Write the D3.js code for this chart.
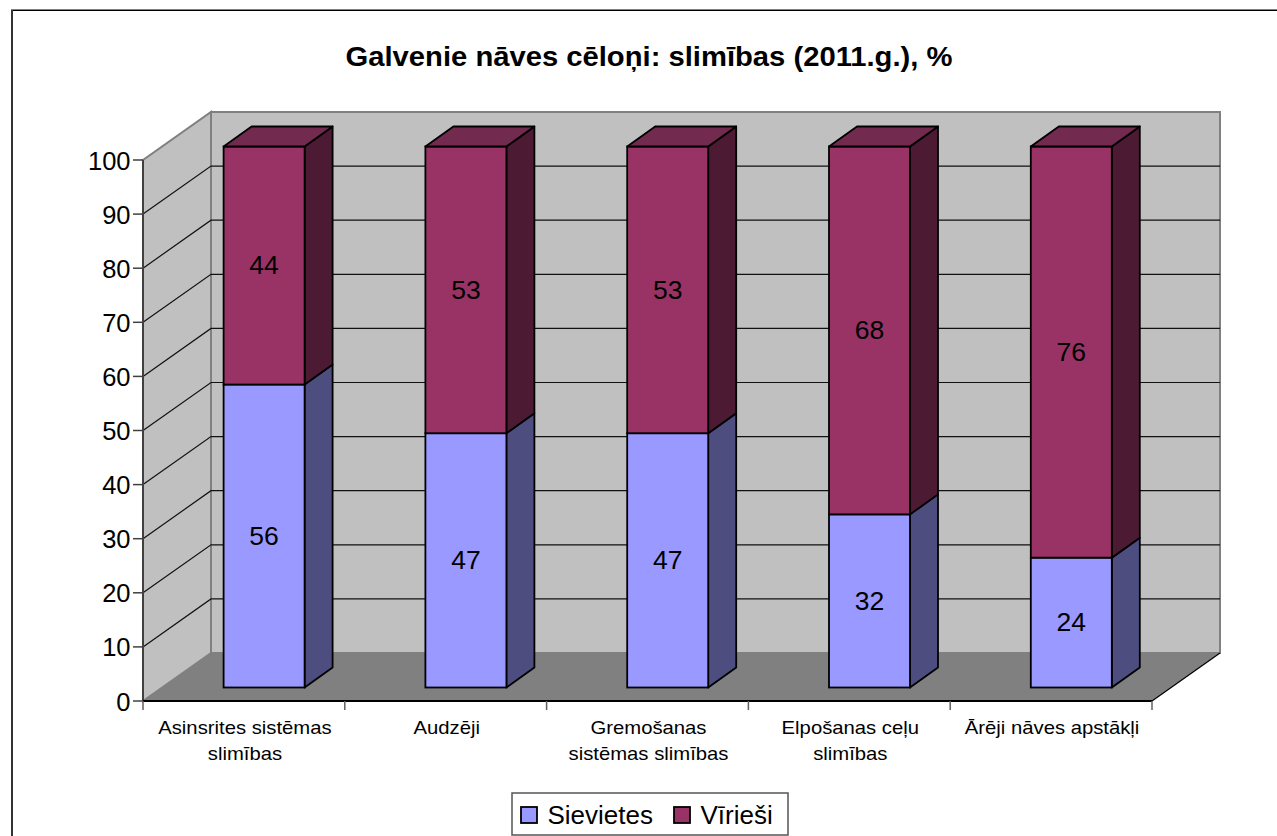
<!DOCTYPE html>
<html><head><meta charset="utf-8">
<script src="https://cdn.jsdelivr.net/npm/d3@7"></script>
<style>html,body{margin:0;padding:0;background:#fff;overflow:hidden}svg{display:block}text{font-family:"Liberation Sans",Arial,sans-serif;fill:#000}</style>
</head><body><svg id="c" width="1277" height="836"></svg>
<script>
const title = "Galvenie nāves cēloņi: slimības (2011.g.), %";
const categories = [["Asinsrites sistēmas","slimības"],["Audzēji"],["Gremošanas","sistēmas slimības"],["Elpošanas ceļu","slimības"],["Ārēji nāves apstākļi"]];
const seriesNames = ["Sievietes","Vīrieši"];
const sievietes = [56,47,47,32,24];
const virieši = [44,53,53,68,76];
const yTicks = [0,10,20,30,40,50,60,70,80,90,100];
const frontColors = ["#9999ff","#993366"];
const sideColors = ["#4d4d80","#4d1a33"];
const topColor = "#732a4f";

const svg = d3.select("#c");
// stretched text helper
function label(px,py,str,size,stretch,anchor,bold){
  return svg.append("text").attr("transform",`translate(${px},${py}) scale(${stretch},1)`)
    .attr("text-anchor",anchor).attr("font-size",size).attr("font-weight",bold?"bold":"normal").text(str);
}
// chart frame: top and left edges show, right and bottom run off the page
svg.append("line").attr("x1",11).attr("x2",1277).attr("y1",9.5).attr("y2",9.5).attr("stroke","#808080").attr("stroke-width",1);
svg.append("line").attr("x1",11).attr("x2",1277).attr("y1",10.5).attr("y2",10.5).attr("stroke","#000").attr("stroke-width",1);
svg.append("line").attr("x1",12).attr("x2",12).attr("y1",10).attr("y2",836).attr("stroke","#333").attr("stroke-width",2);
label(649,65.5,title,28.5,1.025,"middle",true);

const y = d3.scaleLinear().domain([0,100]).range([701,160]);
const x = d3.scaleBand().domain(d3.range(categories.length)).range([143,1152]);
const dx=68, dy=-48;
const pts = a=>a.map(p=>p.join(",")).join(" ");

// walls
svg.append("polygon").attr("points",pts([[143+dx,y(0)+dy],[1152+dx,y(0)+dy],[1152+dx,y(100)+dy],[143+dx,y(100)+dy]])).attr("fill","#c0c0c0").attr("stroke","#808080").attr("stroke-width",2);
svg.append("polygon").attr("points",pts([[143,y(0)],[143+dx,y(0)+dy],[143+dx,y(100)+dy],[143,y(100)]])).attr("fill","#c0c0c0").attr("stroke","#808080").attr("stroke-width",2);
svg.append("polygon").attr("points",pts([[143,y(0)],[1152,y(0)],[1152+dx,y(0)+dy],[143+dx,y(0)+dy]])).attr("fill","#808080");
// floor edges
svg.append("line").attr("x1",1152).attr("y1",y(0)).attr("x2",1152+dx).attr("y2",y(0)+dy).attr("stroke","#000").attr("stroke-width",1.2);
// gridlines
yTicks.filter(t=>t>0&&t<100).forEach(t=>{
  svg.append("polyline").attr("points",pts([[143,y(t)],[143+dx,y(t)+dy],[1152+dx,y(t)+dy]])).attr("fill","none").attr("stroke","#111").attr("stroke-width",1.2);
});
// axes
svg.append("line").attr("x1",143).attr("x2",143).attr("y1",y(0)).attr("y2",y(100)).attr("stroke","#404040").attr("stroke-width",2);
svg.append("line").attr("x1",143).attr("x2",1152).attr("y1",y(0)).attr("y2",y(0)).attr("stroke","#000").attr("stroke-width",2);
yTicks.forEach(t=>{
  svg.append("line").attr("x1",133).attr("x2",143).attr("y1",y(t)).attr("y2",y(t)).attr("stroke","#404040").attr("stroke-width",1.5);
  label(130.5,y(t)+9.5,t,25.5,1.0,"end");
});
d3.range(categories.length+1).forEach(i=>{
  const px = i<categories.length ? x(i) : 1152;
  svg.append("line").attr("x1",px).attr("x2",px).attr("y1",y(0)).attr("y2",y(0)+9).attr("stroke","#606060").attr("stroke-width",1.5);
});
categories.forEach((lines,i)=>{
  lines.forEach((l,j)=>{
    label(x(i)+x.bandwidth()/2+1,733.5+j*26,l,18.6,1.09,"middle");
  });
});
// bars
const bw=81, sx=20.2, sy=-13.5, ddx=28, ddy=-20;
categories.forEach((c,i)=>{
  const xl = x(i)+x.bandwidth()/2+sx-bw/2;
  let cum=0;
  [sievietes,virieši].forEach((s,k)=>{
    const v=s[i];
    const y0=y(cum)+sy, y1=y(cum+v)+sy;
    svg.append("polygon").attr("points",pts([[xl+bw,y0],[xl+bw+ddx,y0+ddy],[xl+bw+ddx,y1+ddy],[xl+bw,y1]])).attr("fill",sideColors[k]).attr("stroke","#000").attr("stroke-width",1.8).attr("stroke-linejoin","round");
    svg.append("rect").attr("x",xl).attr("y",y1).attr("width",bw).attr("height",y0-y1).attr("fill",frontColors[k]).attr("stroke","#000").attr("stroke-width",1.8);
    if(k===1) svg.append("polygon").attr("points",pts([[xl,y1],[xl+ddx,y1+ddy],[xl+bw+ddx,y1+ddy],[xl+bw,y1]])).attr("fill",topColor).attr("stroke","#000").attr("stroke-width",1.8).attr("stroke-linejoin","round");
    label(xl+bw/2,(y0+y1)/2+8.8,v,26,1.02,"middle");
    cum+=v;
  });
});
// legend
svg.append("rect").attr("x",512).attr("y",793).attr("width",276).attr("height",42).attr("fill","#fff").attr("stroke","#555").attr("stroke-width",1.5);
[[521,seriesNames[0],frontColors[0],547.5],[674,seriesNames[1],frontColors[1],700.5]].forEach(([rx,n,col,tx])=>{
  svg.append("rect").attr("x",rx).attr("y",807).attr("width",16).attr("height",16).attr("fill",col).attr("stroke","#000").attr("stroke-width",1.8);
  label(tx,823.5,n,25.5,1.02,"start");
});
</script></body></html>
